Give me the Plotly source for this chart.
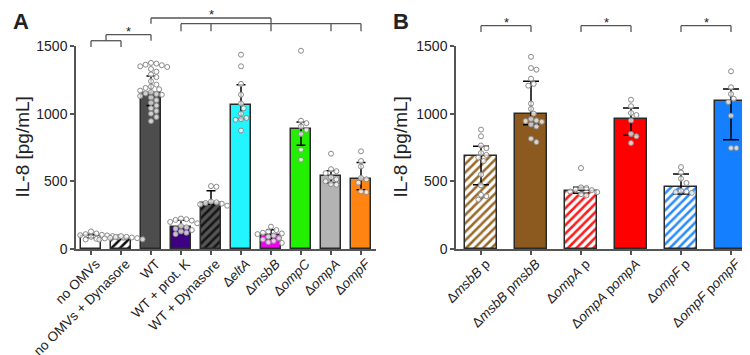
import plotly.graph_objects as go

# ---------------- data ----------------
labels_a = ["no OMVs", "no OMVs + Dynasore", "WT", "WT + prot. K", "WT + Dynasore",
            "Δ<i>eltA</i>", "Δ<i>msbB</i>", "Δ<i>ompC</i>", "Δ<i>ompA</i>", "Δ<i>ompF</i>"]
bars_a = [94, 77, 1153, 160, 340, 1066, 106, 889, 542, 517]
err_hi_a = [15, 8, 125, 52, 91, 148, 37, 49, 37, 123]
err_lo_a = [10, 5, 93, 40, 10, 103, 30, 123, 54, 79]
pts_a = [
    [95, 88, 102, 110, 80, 75, 92, 98, 85, 130, 105, 70, 90, 100, 83, 115],
    [78, 85, 90, 95, 70, 82, 88, 72, 80],
    [1375, 1370, 1362, 1358, 1350, 1345, 1330, 1310, 1290, 1270, 1240, 1215, 1200, 1190,
     1180, 1170, 1160, 1150, 1145, 1140, 1130, 1120, 1100, 1080, 1060, 1040, 1020, 1000, 975, 945],
    [225, 220, 215, 210, 200, 190, 170, 160, 150, 140, 130, 120, 110],
    [465, 460, 350, 345, 340, 335, 330, 320],
    [1436, 1350, 1220, 1140, 1075, 1040, 1000, 968, 960, 955, 875],
    [165, 140, 130, 120, 115, 110, 100, 90, 80, 70, 60, 50, 45],
    [1465, 948, 930, 906, 880, 850, 734, 660],
    [704, 590, 575, 560, 530, 515, 500, 480, 475],
    [722, 650, 610, 525, 515, 490, 425, 420],
]

labels_b = ["Δ<i>msbB</i> p", "Δ<i>msbB</i> p<i>msbB</i>", "Δ<i>ompA</i> p",
            "Δ<i>ompA</i> p<i>ompA</i>", "Δ<i>ompF</i> p", "Δ<i>ompF</i> p<i>ompF</i>"]
bars_b = [685, 997, 426, 963, 456, 1096]
err_hi_b = [74, 242, 30, 79, 98, 86]
err_lo_b = [210, 79, 14, 123, 50, 288]
pts_b = [
    [882, 833, 765, 745, 710, 695, 675, 650, 550, 470, 400, 390, 365],
    [1420, 1337, 1325, 1258, 1220, 1207, 1075, 1035, 1000, 960, 950, 945, 940, 920, 905, 815, 790],
    [598, 455, 450, 440, 435, 425, 420, 405, 395],
    [1103, 1055, 1005, 990, 950, 850, 833, 783],
    [605, 565, 520, 488, 430, 425, 420, 415],
    [1313, 1195, 1145, 1110, 1086, 985, 746, 746],
]

ticks_y = [0, 500, 1000, 1500]
y_title = "IL-8 [pg/mL]"

# ---------------- style ----------------
FONT = "Liberation Sans, Arial, sans-serif"
AX = "#555555"
OUT = "#2a2a2a"
W, H = 750, 355
ML, MR, MT, MB = 68, 2, 38, 114
YMAX = 1500
plot_w = W - ML - MR
plot_h = H - MT - MB
dom_a = [0, 300 / plot_w]
dom_b = [380 / plot_w, 1]

fill_a = ["white", "white", "#4d4d4d", "#3d0080", "#555555",
          "#22f5ff", "#f000f0", "#22f000", "#b3b3b3", "#ff8412"]
hatch_a = [None, "#111111", None, None, "#151515", None, None, None, None, None]
fill_b = ["white", "#8c5a1e", "white", "#ff0000", "white", "#1580ff"]
hatch_b = ["#9a6a2c", None, "#ff1a1a", None, "#2a8cff", None]


def swarm(vals, px_val, px_cat, d=5.4):
    order = sorted(range(len(vals)), key=lambda i: -vals[i])
    placed = []
    offs = [0.0] * len(vals)
    cands = [0.0]
    for s in range(1, 30):
        cands += [s * d * 0.5, -s * d * 0.5]
    for i in order:
        y = vals[i] * px_val
        for c in cands:
            if all((c - px) ** 2 + (y - py) ** 2 >= (d * 0.98) ** 2 for px, py in placed):
                placed.append((c, y))
                offs[i] = c / px_cat
                break
    return offs


fig = go.Figure()


def add_panel(xa, ya, labels, bars, ehi, elo, pts, fills, hatches, cap):
    n = len(labels)
    xs = list(range(n))
    for i in range(n):
        if hatches[i]:
            pat = dict(shape="/", fgcolor=hatches[i], bgcolor=fills[i], size=6, solidity=0.42,
                       fillmode="replace")
        else:
            pat = dict(shape="")
        fig.add_trace(go.Bar(
            x=[xs[i]], y=[bars[i]], width=0.64, xaxis=xa, yaxis=ya,
            marker=dict(color=fills[i], line=dict(color=OUT, width=1.5), pattern=pat),
            error_y=dict(type="data", symmetric=False, array=[ehi[i]], arrayminus=[elo[i]],
                         color="black", thickness=1.5, width=cap),
            showlegend=False, cliponaxis=False, hoverinfo="skip"))
    px_val = plot_h / YMAX
    px_cat = 300 / n
    for i in range(n):
        offs = swarm(pts[i], px_val, px_cat)
        fig.add_trace(go.Scatter(
            x=[xs[i] + o for o in offs], y=pts[i], mode="markers", xaxis=xa, yaxis=ya,
            marker=dict(size=5, color="rgba(255,255,255,0.75)", line=dict(color="#8a8a8a", width=1)),
            showlegend=False, cliponaxis=False, hoverinfo="skip"))


add_panel("x", "y", labels_a, bars_a, err_hi_a, err_lo_a, pts_a, fill_a, hatch_a, 4.5)
add_panel("x2", "y2", labels_b, bars_b, err_hi_b, err_lo_b, pts_b, fill_b, hatch_b, 8)

xcommon = dict(showline=True, linecolor=AX, linewidth=1.5, ticks="outside", ticklen=4,
               tickcolor=AX, tickwidth=1.5, tickangle=-45, showgrid=False, zeroline=False,
               automargin=False, ticklabelshift=5, ticklabelstandoff=-4,
               tickfont=dict(family=FONT, size=13.5, color="#222"))
ycommon = dict(range=[0, YMAX], tickvals=ticks_y, showline=True, linecolor=AX, linewidth=1.5,
               ticks="outside", ticklen=4, tickcolor=AX, tickwidth=1.5, showgrid=False,
               zeroline=False, automargin=False, tickfont=dict(family=FONT, size=14, color="#222"))

fig.update_layout(
    width=W, height=H, margin=dict(l=ML, r=MR, t=MT, b=MB, autoexpand=False),
    plot_bgcolor="white", paper_bgcolor="white", bargap=0,
    xaxis=dict(domain=dom_a, range=[-0.5, len(labels_a) - 0.5], tickvals=list(range(len(labels_a))),
               ticktext=labels_a, anchor="y", **xcommon),
    yaxis=dict(domain=[0, 1], anchor="x", **ycommon),
    xaxis2=dict(domain=dom_b, range=[-0.5, len(labels_b) - 0.5], tickvals=list(range(len(labels_b))),
                ticktext=labels_b, anchor="y2", **xcommon),
    yaxis2=dict(domain=[0, 1], anchor="x2", **ycommon),
)

# y-axis titles and panel letters
for xpx, txt in [(14, y_title), (392, y_title)]:
    fig.add_annotation(x=(xpx - ML) / plot_w, y=0.5, xref="paper", yref="paper", text=txt,
                       textangle=-90, showarrow=False, xanchor="center", yanchor="middle",
                       font=dict(family=FONT, size=19, color="#222"))
for xpx, txt in [(13, "A"), (393, "B")]:
    fig.add_annotation(x=(xpx - ML) / plot_w, y=(MT + plot_h - 13) / plot_h, xref="paper", yref="paper",
                       text="<b>%s</b>" % txt, showarrow=False, xanchor="center", yanchor="middle",
                       font=dict(family=FONT, size=22, color="#222"))

# significance brackets (levels in data units)
BR = "#555555"


def line(xr, x0, x1, v0, v1):
    fig.add_shape(type="line", xref=xr, yref="paper", x0=x0, x1=x1, y0=v0 / YMAX, y1=v1 / YMAX,
                  line=dict(color=BR, width=1.3))


def star(xr, x, v):
    fig.add_annotation(x=x, y=v / YMAX, xref=xr, yref="paper", text="*", showarrow=False,
                       yanchor="bottom", yshift=-6, font=dict(family=FONT, size=13, color="#222"))


# panel A
line("x", 0, 1, 1539, 1539)
line("x", 0, 0, 1539, 1493)
line("x", 1, 1, 1539, 1493)
line("x", 0.5, 0.5, 1539, 1584)
line("x", 0.5, 2, 1584, 1584)
line("x", 2, 2, 1584, 1539)
star("x", 1.25, 1584)
line("x", 3, 9, 1665, 1665)
for c in [3, 4, 8, 9]:
    line("x", c, c, 1665, 1609)
line("x", 6, 6, 1707, 1609)
line("x", 2, 6, 1707, 1707)
line("x", 2, 2, 1707, 1665)
star("x", 4, 1707)

# panel B
for a, b in [(0, 1), (2, 3), (4, 5)]:
    line("x2", a, b, 1650, 1650)
    line("x2", a, a, 1650, 1603)
    line("x2", b, b, 1650, 1603)
    star("x2", (a + b) / 2, 1650)

fig.write_html("out.html")
